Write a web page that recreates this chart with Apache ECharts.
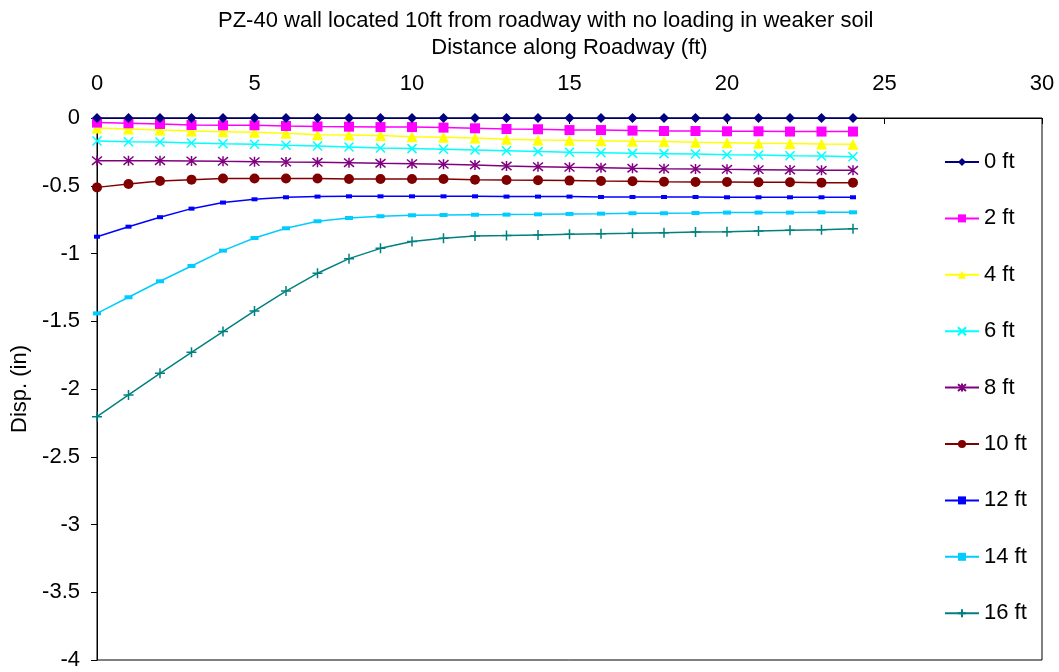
<!DOCTYPE html>
<html>
<head>
<meta charset="utf-8">
<script src="https://cdn.jsdelivr.net/npm/echarts@6/dist/echarts.min.js"></script>
<style>html,body{margin:0;padding:0;background:#fff}#c{width:1059px;height:672px}</style>
</head>
<body>
<div id="c"></div>
<script>
const xValues = [0,1,2,3,4,5,6,7,8,9,10,11,12,13,14,15,16,17,18,19,20,21,22,23,24];
const seriesNames = ['0 ft','2 ft','4 ft','6 ft','8 ft','10 ft','12 ft','14 ft','16 ft'];
const s0 = [0,0,0,0,0,0,0,0,0,0,0,0,0,0,0,0,0,0,0,0,0,0,0,0,0];
const s2 = [-0.034,-0.039,-0.044,-0.052,-0.054,-0.054,-0.059,-0.062,-0.064,-0.067,-0.067,-0.071,-0.076,-0.081,-0.083,-0.089,-0.089,-0.093,-0.096,-0.096,-0.098,-0.098,-0.100,-0.100,-0.100];
const s4 = [-0.074,-0.081,-0.089,-0.096,-0.101,-0.106,-0.113,-0.123,-0.125,-0.130,-0.138,-0.142,-0.148,-0.157,-0.162,-0.164,-0.167,-0.172,-0.174,-0.179,-0.182,-0.186,-0.189,-0.192,-0.194];
const s6 = [-0.170,-0.175,-0.177,-0.184,-0.190,-0.194,-0.201,-0.207,-0.214,-0.221,-0.226,-0.231,-0.236,-0.241,-0.248,-0.253,-0.256,-0.261,-0.263,-0.265,-0.271,-0.273,-0.278,-0.280,-0.286];
const s8 = [-0.315,-0.315,-0.315,-0.317,-0.320,-0.322,-0.325,-0.327,-0.330,-0.334,-0.337,-0.342,-0.347,-0.354,-0.359,-0.364,-0.367,-0.371,-0.374,-0.376,-0.379,-0.381,-0.383,-0.386,-0.386];
const s10 = [-0.512,-0.487,-0.465,-0.455,-0.447,-0.447,-0.447,-0.447,-0.450,-0.450,-0.450,-0.450,-0.455,-0.458,-0.460,-0.462,-0.465,-0.467,-0.470,-0.472,-0.472,-0.474,-0.474,-0.477,-0.477];
const s12 = [-0.876,-0.802,-0.732,-0.669,-0.624,-0.600,-0.585,-0.580,-0.578,-0.578,-0.578,-0.578,-0.578,-0.580,-0.580,-0.580,-0.583,-0.583,-0.583,-0.583,-0.585,-0.585,-0.585,-0.585,-0.585];
const s14 = [-1.442,-1.323,-1.205,-1.092,-0.979,-0.886,-0.814,-0.762,-0.738,-0.725,-0.718,-0.716,-0.714,-0.713,-0.711,-0.708,-0.706,-0.703,-0.703,-0.701,-0.698,-0.698,-0.698,-0.696,-0.696];
const s16 = [-2.204,-2.044,-1.884,-1.729,-1.576,-1.424,-1.277,-1.146,-1.038,-0.962,-0.912,-0.888,-0.871,-0.868,-0.863,-0.858,-0.854,-0.851,-0.846,-0.841,-0.839,-0.834,-0.829,-0.824,-0.817];
const allValues = [s0,s2,s4,s6,s8,s10,s12,s14,s16];

const colors = ['#000080','#FF00FF','#FFFF00','#00FFFF','#800080','#800000','#0000FF','#00CCFF','#008080'];
const symbols = [
  {symbol:'diamond', size:10, stroke:false},
  {symbol:'rect', size:10, stroke:false},
  {symbol:'triangle', size:11, stroke:false},
  {symbol:'path://M0,0L10,10M10,0L0,10', size:9, stroke:true},
  {symbol:'path://M0,0L10,10M10,0L0,10M5,-1L5,11', size:10, stroke:true},
  {symbol:'circle', size:10, stroke:false},
  {symbol:'rect', size:[6,4], stroke:false},
  {symbol:'rect', size:[8,4], stroke:false},
  {symbol:'path://M5,0L5,10M0,5L10,5', size:10, stroke:true}
];
const FONT = 'Liberation Sans, Arial, sans-serif';

const series = seriesNames.map((name, i) => ({
  name: name,
  type: 'line',
  data: xValues.map((x, j) => [x, allValues[i][j]]),
  symbol: symbols[i].symbol,
  symbolSize: symbols[i].size,
  showAllSymbol: true,
  lineStyle: {color: colors[i], width: 1.5},
  itemStyle: symbols[i].stroke ? {color: colors[i], borderColor: colors[i], borderWidth: 1.5} : {color: colors[i], borderWidth: 0},
  emphasis: {disabled: true},
  z: 10 - i,
  animation: false
}));

const chart = echarts.init(document.getElementById('c'), null, {renderer: 'canvas'});
chart.setOption({
  animation: false,
  backgroundColor: '#fff',
  title: {
    text: 'PZ-40 wall located 10ft from roadway with no loading in weaker soil',
    left: 213, top: 5,
    textStyle: {fontFamily: FONT, fontSize: 22, fontWeight: 'normal', color: '#000'}
  },
  grid: {left: 97, right: 17, top: 118, bottom: 12, show: true, borderColor: '#000', borderWidth: 1, backgroundColor: 'transparent'},
  legend: {
    data: seriesNames,
    orient: 'vertical',
    left: 939, top: 146,
    itemWidth: 34, itemHeight: 10, itemGap: 34.4,
    textStyle: {fontFamily: FONT, fontSize: 22, color: '#000'},
    selectedMode: false
  },
  xAxis: {
    type: 'value', position: 'top', min: 0, max: 30, interval: 5,
    name: 'Distance along Roadway (ft)', nameLocation: 'middle', nameGap: 59,
    nameTextStyle: {fontFamily: FONT, fontSize: 22, color: '#000'},
    axisLine: {show: true, onZero: false, lineStyle: {color: '#000', width: 1}},
    axisTick: {show: true, inside: true, length: 6, lineStyle: {color: '#000'}},
    axisLabel: {fontFamily: FONT, fontSize: 22, color: '#000', margin: 23},
    splitLine: {show: false}
  },
  yAxis: {
    type: 'value', min: -4, max: 0, interval: 0.5,
    name: 'Disp. (in)', nameLocation: 'middle', nameGap: 66,
    nameTextStyle: {fontFamily: FONT, fontSize: 22, color: '#000'},
    axisLine: {show: true, onZero: false, lineStyle: {color: '#000', width: 1}},
    axisTick: {show: true, inside: false, length: 6, lineStyle: {color: '#000'}},
    axisLabel: {fontFamily: FONT, fontSize: 22, color: '#000', margin: 17},
    splitLine: {show: false}
  },
  series: series
});
</script>
</body>
</html>
